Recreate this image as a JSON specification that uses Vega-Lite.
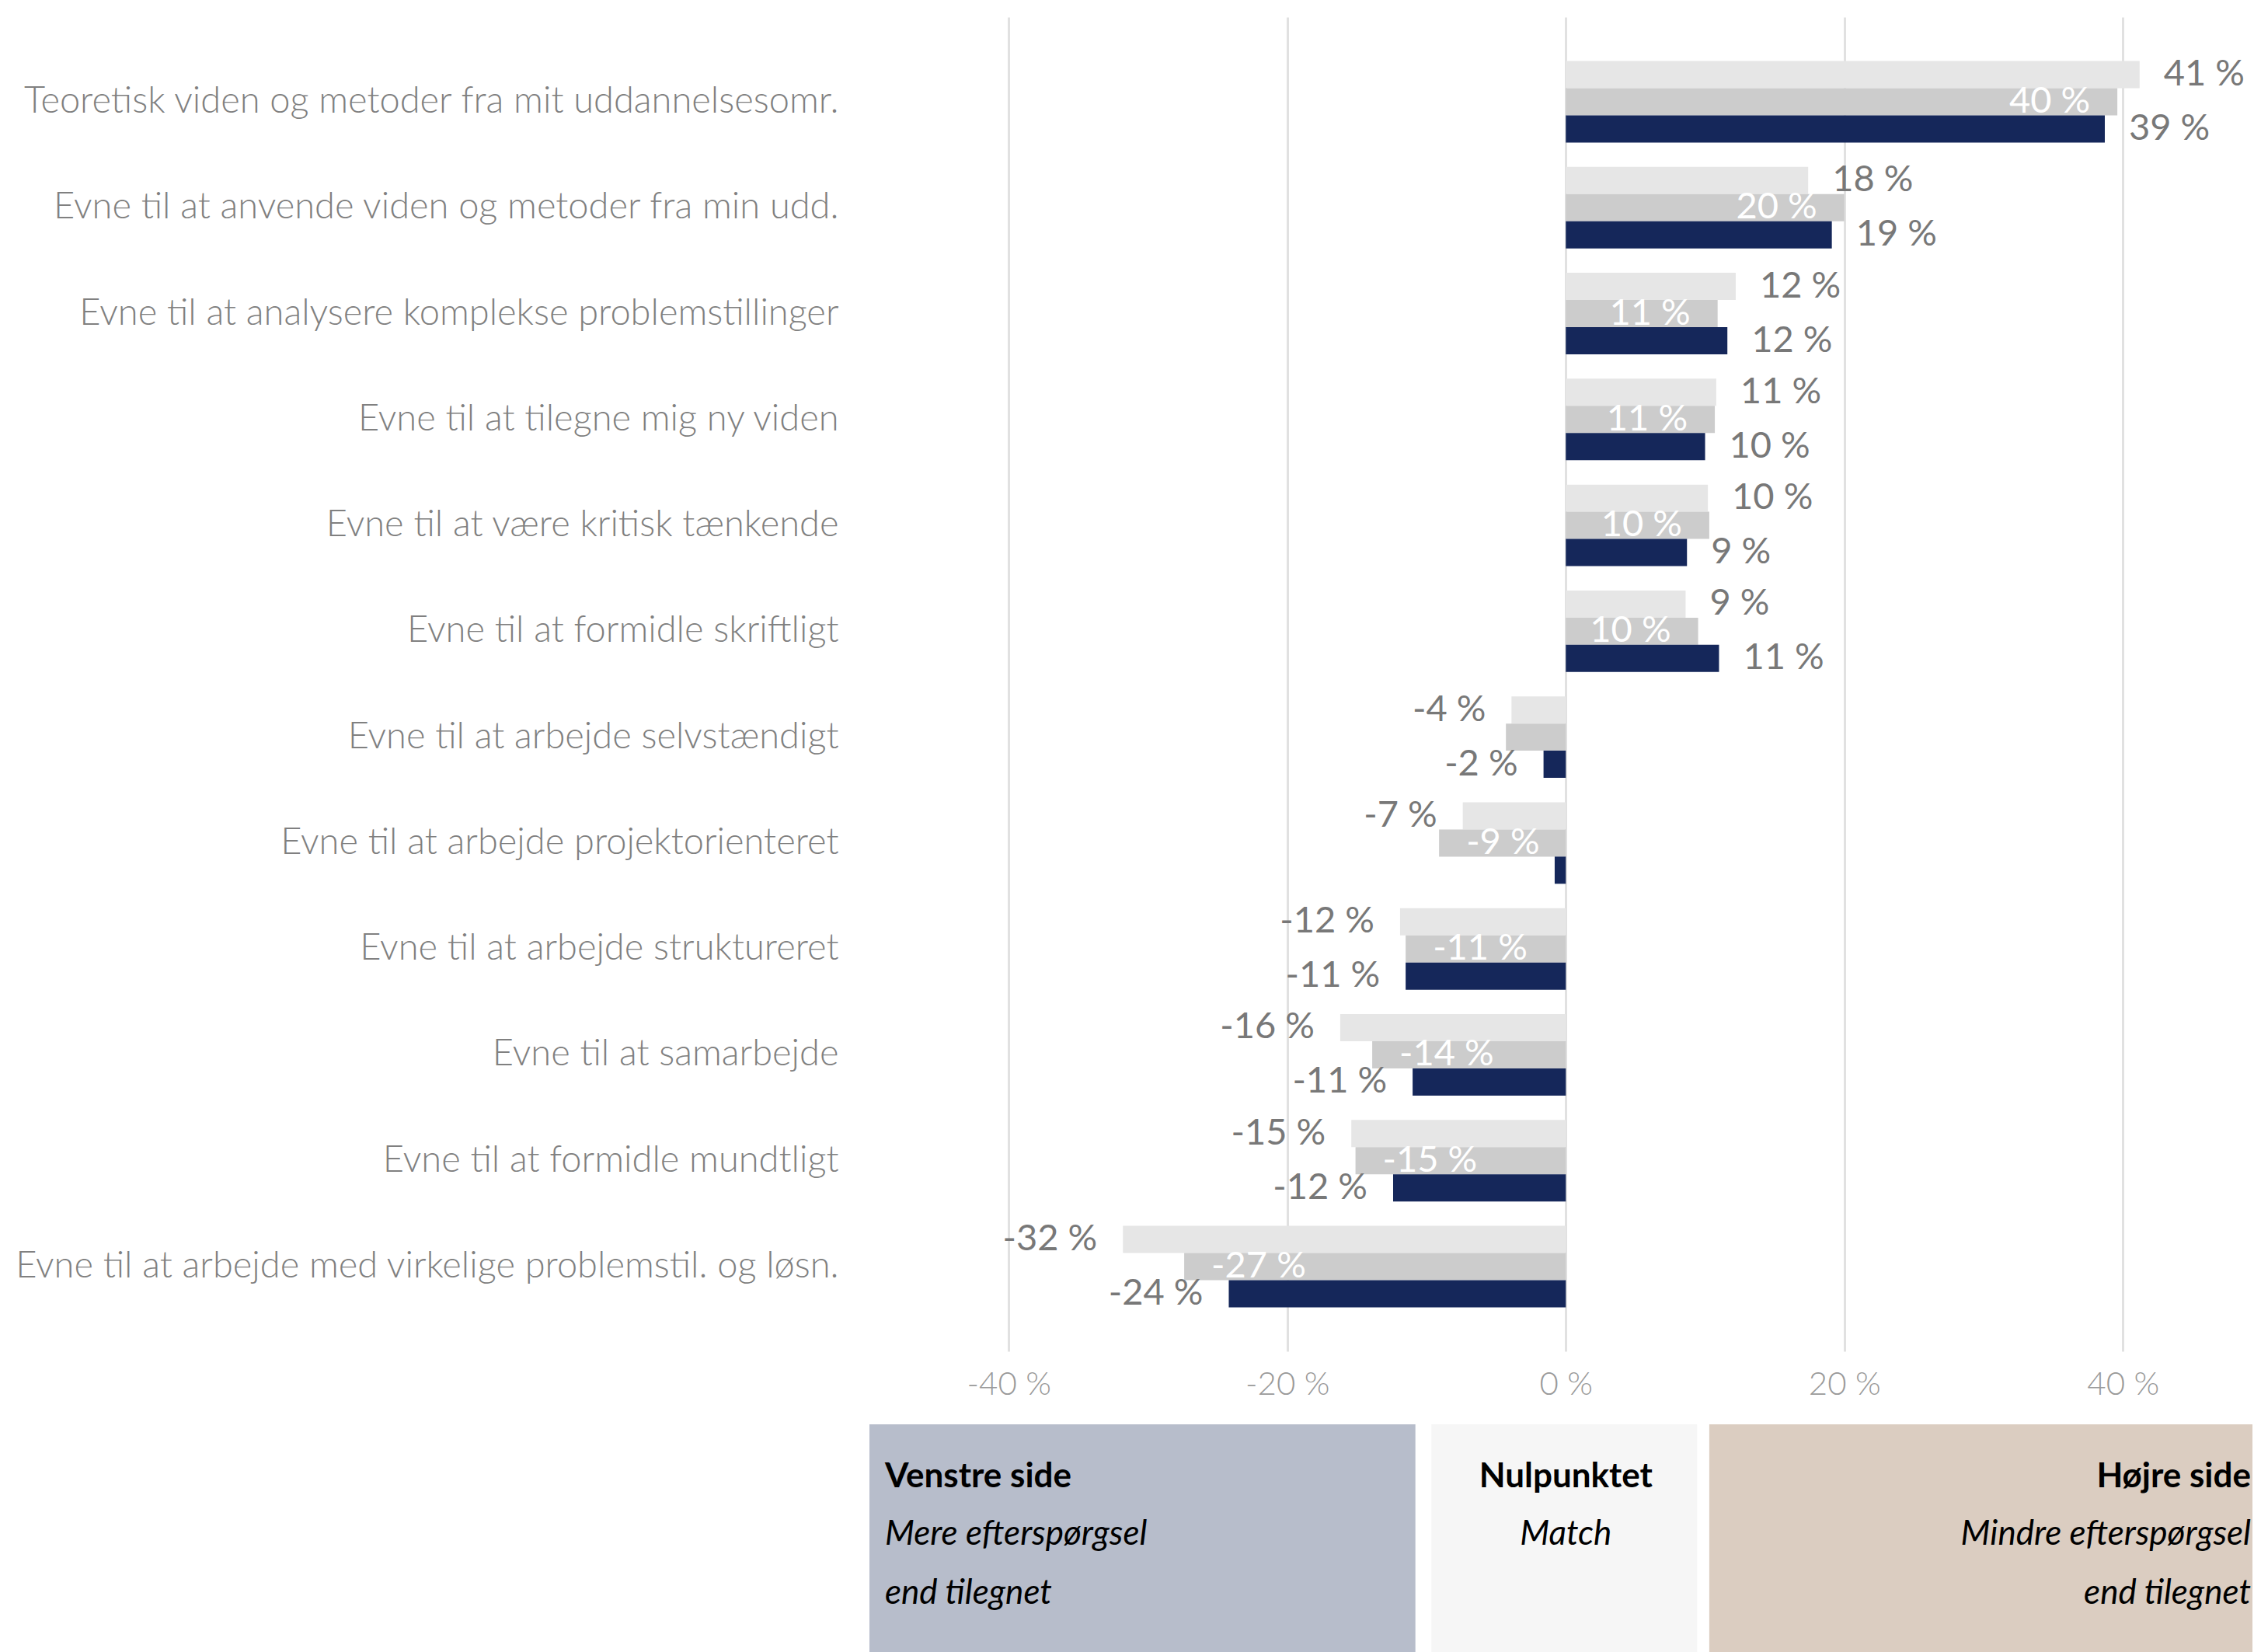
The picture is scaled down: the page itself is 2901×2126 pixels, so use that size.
{
  "$schema": "https://vega.github.io/schema/vega-lite/v6.json",
  "padding": {"left": 18, "top": 22, "right": 0, "bottom": 0},
  "background": "white",
  "spacing": 94,
  "bounds": "flush",
  "resolve": {"scale": {"color": "independent", "x": "independent"}},
  "config": {"view": {"stroke": null}, "font": "Lato"},
  "datasets": {
    "bars": [
      {"item": "Teoretisk viden og metoder fra mit uddannelsesomr.", "serie": "Serie 1", "value": 41.2, "label": "41 %"},
      {"item": "Teoretisk viden og metoder fra mit uddannelsesomr.", "serie": "Serie 2", "value": 39.6, "label": "40 %"},
      {"item": "Teoretisk viden og metoder fra mit uddannelsesomr.", "serie": "Serie 3", "value": 38.7, "label": "39 %"},
      {"item": "Evne til at anvende viden og metoder fra min udd.", "serie": "Serie 1", "value": 17.4, "label": "18 %"},
      {"item": "Evne til at anvende viden og metoder fra min udd.", "serie": "Serie 2", "value": 20.0, "label": "20 %"},
      {"item": "Evne til at anvende viden og metoder fra min udd.", "serie": "Serie 3", "value": 19.1, "label": "19 %"},
      {"item": "Evne til at analysere komplekse problemstillinger", "serie": "Serie 1", "value": 12.2, "label": "12 %"},
      {"item": "Evne til at analysere komplekse problemstillinger", "serie": "Serie 2", "value": 10.9, "label": "11 %"},
      {"item": "Evne til at analysere komplekse problemstillinger", "serie": "Serie 3", "value": 11.6, "label": "12 %"},
      {"item": "Evne til at tilegne mig ny viden", "serie": "Serie 1", "value": 10.8, "label": "11 %"},
      {"item": "Evne til at tilegne mig ny viden", "serie": "Serie 2", "value": 10.7, "label": "11 %"},
      {"item": "Evne til at tilegne mig ny viden", "serie": "Serie 3", "value": 10.0, "label": "10 %"},
      {"item": "Evne til at være kritisk tænkende", "serie": "Serie 1", "value": 10.2, "label": "10 %"},
      {"item": "Evne til at være kritisk tænkende", "serie": "Serie 2", "value": 10.3, "label": "10 %"},
      {"item": "Evne til at være kritisk tænkende", "serie": "Serie 3", "value": 8.7, "label": "9 %"},
      {"item": "Evne til at formidle skriftligt", "serie": "Serie 1", "value": 8.6, "label": "9 %"},
      {"item": "Evne til at formidle skriftligt", "serie": "Serie 2", "value": 9.5, "label": "10 %"},
      {"item": "Evne til at formidle skriftligt", "serie": "Serie 3", "value": 11.0, "label": "11 %"},
      {"item": "Evne til at arbejde selvstændigt", "serie": "Serie 1", "value": -3.9, "label": "-4 %"},
      {"item": "Evne til at arbejde selvstændigt", "serie": "Serie 2", "value": -4.3, "label": ""},
      {"item": "Evne til at arbejde selvstændigt", "serie": "Serie 3", "value": -1.6, "label": "-2 %"},
      {"item": "Evne til at arbejde projektorienteret", "serie": "Serie 1", "value": -7.4, "label": "-7 %"},
      {"item": "Evne til at arbejde projektorienteret", "serie": "Serie 2", "value": -9.1, "label": "-9 %"},
      {"item": "Evne til at arbejde projektorienteret", "serie": "Serie 3", "value": -0.8, "label": ""},
      {"item": "Evne til at arbejde struktureret", "serie": "Serie 1", "value": -11.9, "label": "-12 %"},
      {"item": "Evne til at arbejde struktureret", "serie": "Serie 2", "value": -11.5, "label": "-11 %"},
      {"item": "Evne til at arbejde struktureret", "serie": "Serie 3", "value": -11.5, "label": "-11 %"},
      {"item": "Evne til at samarbejde", "serie": "Serie 1", "value": -16.2, "label": "-16 %"},
      {"item": "Evne til at samarbejde", "serie": "Serie 2", "value": -13.9, "label": "-14 %"},
      {"item": "Evne til at samarbejde", "serie": "Serie 3", "value": -11.0, "label": "-11 %"},
      {"item": "Evne til at formidle mundtligt", "serie": "Serie 1", "value": -15.4, "label": "-15 %"},
      {"item": "Evne til at formidle mundtligt", "serie": "Serie 2", "value": -15.1, "label": "-15 %"},
      {"item": "Evne til at formidle mundtligt", "serie": "Serie 3", "value": -12.4, "label": "-12 %"},
      {"item": "Evne til at arbejde med virkelige problemstil. og løsn.", "serie": "Serie 1", "value": -31.8, "label": "-32 %"},
      {"item": "Evne til at arbejde med virkelige problemstil. og løsn.", "serie": "Serie 2", "value": -27.4, "label": "-27 %"},
      {"item": "Evne til at arbejde med virkelige problemstil. og løsn.", "serie": "Serie 3", "value": -24.2, "label": "-24 %"}
    ],
    "boxes": [
      {"side": "Venstre side", "fra": -50, "til": -10.8, "undertekst": ["Mere efterspørgsel", "end tilegnet"]},
      {"side": "Nulpunktet", "fra": -9.65, "til": 9.43, "undertekst": ["Match"]},
      {"side": "Højre side", "fra": 10.3, "til": 49.3, "undertekst": ["Mindre efterspørgsel", "end tilegnet"]}
    ]
  },
  "vconcat": [
    {
      "width": 1780,
      "height": 1717,
      "data": {"name": "bars"},
      "encoding": {
        "y": {
          "field": "item", "type": "nominal", "sort": null,
          "scale": {"paddingInner": 0.23, "paddingOuter": 0.415},
          "axis": {"title": null, "domain": false, "ticks": false, "labelFontSize": 47, "labelFont": "Lato", "labelFontWeight": 300, "labelColor": "#808080", "labelPadding": 40, "labelLimit": 1600}
        },
        "yOffset": {"field": "serie", "type": "nominal", "sort": ["Serie 1", "Serie 2", "Serie 3"], "scale": {"paddingInner": 0, "paddingOuter": 0}},
        "x": {
          "field": "value", "type": "quantitative",
          "scale": {"domain": [-50, 49.3], "nice": false, "zero": false},
          "axis": {"title": null, "values": [-40, -20, 0, 20, 40], "labelExpr": "datum.value + ' %'", "grid": true, "gridColor": "#e1e1e1", "gridWidth": 3, "domain": false, "ticks": false, "labelFontSize": 42, "labelFont": "Lato", "labelFontWeight": 300, "labelColor": "#9a9a9a", "labelPadding": 22}
        }
      },
      "layer": [
        {
          "mark": {"type": "bar"},
          "encoding": {
            "color": {"field": "serie", "type": "nominal", "scale": {"domain": ["Serie 1", "Serie 2", "Serie 3"], "range": ["#e6e6e6", "#cccccc", "#15275a"]}, "legend": null}
          }
        },
        {
          "transform": [{"filter": "datum.serie != 'Serie 2' && datum.value >= 0"}],
          "mark": {"type": "text", "align": "left", "baseline": "middle", "dx": 31, "fontSize": 47, "color": "#787878"},
          "encoding": {"text": {"field": "label"}}
        },
        {
          "transform": [{"filter": "datum.serie != 'Serie 2' && datum.value < 0"}],
          "mark": {"type": "text", "align": "right", "baseline": "middle", "dx": -33, "fontSize": 47, "color": "#787878"},
          "encoding": {"text": {"field": "label"}}
        },
        {
          "transform": [{"filter": "datum.serie == 'Serie 2' && datum.value >= 0"}],
          "mark": {"type": "text", "align": "right", "baseline": "middle", "dx": -35, "fontSize": 47, "color": "#ffffff"},
          "encoding": {"text": {"field": "label"}}
        },
        {
          "transform": [{"filter": "datum.serie == 'Serie 2' && datum.value < 0"}],
          "mark": {"type": "text", "align": "left", "baseline": "middle", "dx": 35, "fontSize": 47, "color": "#ffffff"},
          "encoding": {"text": {"field": "label"}}
        }
      ]
    },
    {
      "width": 1780,
      "height": 293,
      "data": {"name": "boxes"},
      "encoding": {
        "x": {"field": "fra", "type": "quantitative", "scale": {"domain": [-50, 49.3], "nice": false, "zero": false}, "axis": null}
      },
      "layer": [
        {
          "mark": {"type": "rect"},
          "encoding": {
            "x2": {"field": "til"},
            "color": {"field": "side", "type": "nominal", "scale": {"domain": ["Venstre side", "Nulpunktet", "Højre side"], "range": ["#b7bdcb", "#f6f6f6", "#dbcdc1"]}, "legend": null}
          }
        },
        {
          "transform": [{"filter": "datum.side == 'Venstre side'"}],
          "mark": {"type": "text", "align": "left", "baseline": "middle", "dx": 20, "dy": -79, "fontSize": 44, "fontWeight": "bold", "color": "#000000"},
          "encoding": {"text": {"field": "side"}}
        },
        {
          "transform": [{"filter": "datum.side == 'Venstre side'"}],
          "mark": {"type": "text", "align": "left", "baseline": "middle", "dx": 20, "dy": -5, "lineHeight": 76, "fontSize": 44, "fontStyle": "italic", "color": "#000000"},
          "encoding": {"text": {"field": "undertekst"}}
        },
        {
          "transform": [{"filter": "datum.side == 'Nulpunktet'"}],
          "mark": {"type": "text", "align": "center", "baseline": "middle", "dy": -79, "fontSize": 44, "fontWeight": "bold", "color": "#000000"},
          "encoding": {"x": {"datum": 0}, "text": {"field": "side"}}
        },
        {
          "transform": [{"filter": "datum.side == 'Nulpunktet'"}],
          "mark": {"type": "text", "align": "center", "baseline": "middle", "dy": -5, "lineHeight": 76, "fontSize": 44, "fontStyle": "italic", "color": "#000000"},
          "encoding": {"x": {"datum": 0}, "text": {"field": "undertekst"}}
        },
        {
          "transform": [{"filter": "datum.side == 'Højre side'"}],
          "mark": {"type": "text", "align": "right", "baseline": "middle", "dx": -2, "dy": -79, "fontSize": 44, "fontWeight": "bold", "color": "#000000"},
          "encoding": {"x": {"field": "til", "type": "quantitative"}, "text": {"field": "side"}}
        },
        {
          "transform": [{"filter": "datum.side == 'Højre side'"}],
          "mark": {"type": "text", "align": "right", "baseline": "middle", "dx": -2, "dy": -5, "lineHeight": 76, "fontSize": 44, "fontStyle": "italic", "color": "#000000"},
          "encoding": {"x": {"field": "til", "type": "quantitative"}, "text": {"field": "undertekst"}}
        }
      ]
    }
  ]
}
